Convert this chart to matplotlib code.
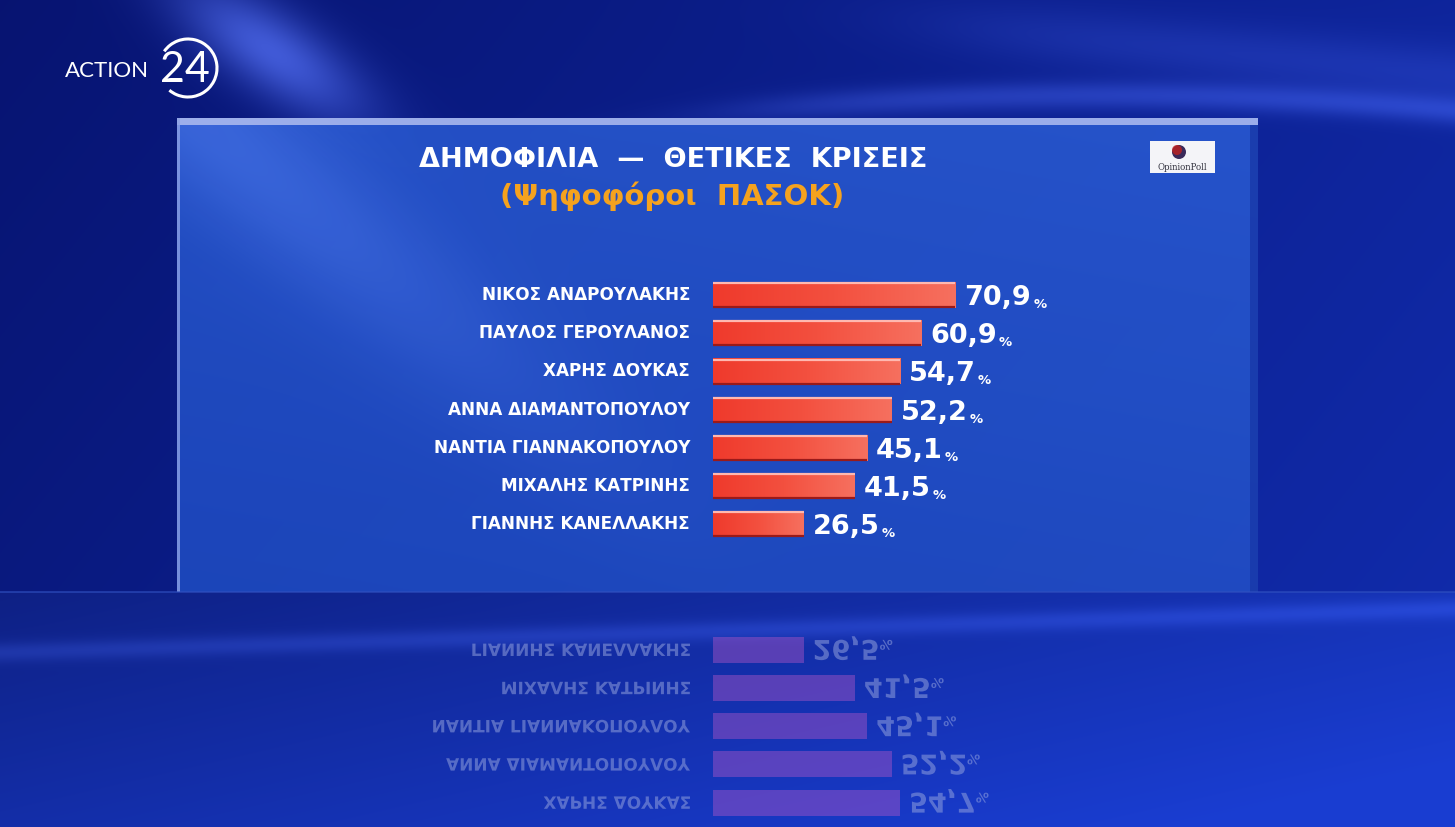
import numpy as np
import matplotlib
matplotlib.use("Agg")
import matplotlib.pyplot as plt
from matplotlib.patches import Rectangle, Arc, Circle, PathPatch
from matplotlib.textpath import TextPath
from matplotlib.font_manager import FontProperties
from matplotlib.colors import LinearSegmentedColormap

# ---------------- data ----------------
names = ["ΝΙΚΟΣ ΑΝΔΡΟΥΛΑΚΗΣ", "ΠΑΥΛΟΣ ΓΕΡΟΥΛΑΝΟΣ", "ΧΑΡΗΣ ΔΟΥΚΑΣ",
         "ΑΝΝΑ ΔΙΑΜΑΝΤΟΠΟΥΛΟΥ", "ΝΑΝΤΙΑ ΓΙΑΝΝΑΚΟΠΟΥΛΟΥ", "ΜΙΧΑΛΗΣ ΚΑΤΡΙΝΗΣ",
         "ΓΙΑΝΝΗΣ ΚΑΝΕΛΛΑΚΗΣ"]
values = [70.9, 60.9, 54.7, 52.2, 45.1, 41.5, 26.5]
title = "ΔΗΜΟΦΙΛΙΑ  —  ΘΕΤΙΚΕΣ  ΚΡΙΣΕΙΣ"
subtitle = "(Ψηφοφόροι  ΠΑΣΟΚ)"

W, H = 1455, 827
DPI = 100
fig = plt.figure(figsize=(W / DPI, H / DPI), dpi=DPI)

# ---------------- background (pixel coordinates) ----------------
bg = fig.add_axes([0, 0, 1, 1], zorder=0)
bg.set_xlim(0, W)
bg.set_ylim(H, 0)
bg.axis("off")

yy, xx = np.mgrid[0:H, 0:W].astype(float)
dark = np.array([0.02, 0.06, 0.40])
mid = np.array([0.07, 0.18, 0.70])
f = np.clip(0.15 + 0.55 * xx / W + 0.25 * yy / H, 0, 1)
img = dark[None, None, :] * (1 - f[..., None]) + mid[None, None, :] * f[..., None]


def sig(z):
    return 1 / (1 + np.exp(-z))


# soft light streaks
streak_d = (yy - 1.0 * (xx - 220)) / np.sqrt(2)
glow = 0.40 * np.exp(-(streak_d / 45) ** 2) * np.exp(-((yy - 50) / 70) ** 2)
curve_y = 95 + 0.00012 * (xx - 1100) ** 2
glow += 0.18 * np.exp(-((yy - curve_y) / 14) ** 2) * sig((xx - 750) / 60)
glow += 0.10 * np.exp(-((yy - (20 + 0.1 * (xx - 900))) / 30) ** 2) * sig((xx - 950) / 60)
img += glow[..., None] * np.array([0.55, 0.65, 0.9])[None, None, :]
# floor
floor = yy >= 592
ff = np.clip(0.25 + 0.5 * xx / W + 0.35 * (yy - 592) / 235, 0, 1)
floor_col = np.array([0.04, 0.09, 0.42])[None, None, :] * (1 - ff[..., None]) + \
    np.array([0.10, 0.24, 0.82])[None, None, :] * ff[..., None]
band = 0.12 * np.exp(-((yy - (640 - 0.03 * (xx - 400))) / 10) ** 2)
floor_col += band[..., None] * np.array([0.5, 0.6, 0.9])[None, None, :]
img = np.where(floor[..., None], floor_col, img)
bg.imshow(np.clip(img, 0, 1), extent=[0, W, H, 0], aspect="auto", zorder=0,
          interpolation="bilinear")

# panel
pw0, pw1, ph0, ph1 = 177, 1258, 118, 592
py, px = np.mgrid[0:ph1 - ph0, 0:pw1 - pw0].astype(float)
pf = np.clip(0.6 - 0.35 * py / (ph1 - ph0) + 0.15 * px / (pw1 - pw0), 0, 1)
pimg = np.array([0.10, 0.26, 0.72])[None, None, :] * (1 - pf[..., None]) + \
    np.array([0.18, 0.38, 0.85])[None, None, :] * pf[..., None]
pd = (py - 0.9 * (px - 20)) / 1.35
pglow = 0.10 * np.exp(-(pd / 70) ** 2) * np.exp(-(py / 260) ** 2)
pimg += pglow[..., None]
bg.imshow(np.clip(pimg, 0, 1), extent=[pw0, pw1, ph1, ph0], aspect="auto",
          zorder=1, alpha=0.9)
bg.add_patch(Rectangle((pw0, ph0), pw1 - pw0, 7, facecolor="#a9b8ee",
                       edgecolor="none", zorder=2, alpha=0.9))
bg.add_patch(Rectangle((pw0, ph0), 3, ph1 - ph0, facecolor="#8fa2e4",
                       edgecolor="none", zorder=2, alpha=0.8))
bg.add_patch(Rectangle((pw1 - 8, ph0 + 7), 8, ph1 - ph0 - 7, facecolor="#1838a8",
                       edgecolor="none", zorder=2, alpha=0.8))
bg.plot([0, W], [592, 592], color="#3050c0", lw=1.2, zorder=2, alpha=0.7)

# logo ACTION 24
bg.text(65, 77, "ACTION", color="white", fontsize=16, family="Lato",
        ha="left", va="baseline", zorder=3)
bg.text(160, 82, "24", color="white", fontsize=31, family="Lato",
        ha="left", va="baseline", zorder=3)
bg.add_patch(Arc((188, 68), 58, 58, theta1=215, theta2=130, color="white",
                 lw=2.2, zorder=3))

# OpinionPoll logo
bg.add_patch(Rectangle((1150, 141), 65, 32, facecolor="#f4f4f8",
                       edgecolor="none", zorder=3))
bg.add_patch(Circle((1179, 152), 7, facecolor="#3a2a5a", edgecolor="none",
                    zorder=4))
bg.add_patch(Circle((1177, 150), 5, facecolor="#c02020", edgecolor="none",
                    zorder=4, alpha=0.8))
bg.text(1182, 167, "OpinionPoll", color="#333340", fontsize=6.2,
        family="DejaVu Serif", ha="center", va="center", zorder=4)

# titles
bg.text(673, 160, title, color="white", fontsize=19.5, fontweight="bold",
        family="DejaVu Sans", ha="center", va="center", zorder=3)
bg.text(672, 196, subtitle, color="#f5a21e", fontsize=21, fontweight="bold",
        family="DejaVu Sans", ha="center", va="center", zorder=3)

# ---------------- bar axes ----------------
x0_px, x1_px = 713, 1258
row_h = 38.2
top_px = 295 - row_h / 2
n = len(values)
bot_px = top_px + n * row_h
px_per_unit = 3.42
ax = fig.add_axes([x0_px / W, 1 - bot_px / H, (x1_px - x0_px) / W,
                   (bot_px - top_px) / H], zorder=2)
ax.set_facecolor("none")
ax.axis("off")
xmax = (x1_px - x0_px) / px_per_unit
bar_h = 0.68
ypos = np.arange(n)
bars = ax.barh(ypos, values, height=bar_h, color="#f04838", edgecolor="none",
               zorder=2)
grad = np.linspace(0, 1, 256)[None, :]
cmap = LinearSegmentedColormap.from_list("barg", ["#ef3a2c", "#f3503f", "#f6705f"])
for b in bars:
    x, y, w, h = b.get_x(), b.get_y(), b.get_width(), b.get_height()
    im = ax.imshow(grad, extent=[x, x + w, y + h, y], aspect="auto", cmap=cmap,
                   zorder=3)
    im.set_clip_path(b)
ax.hlines(ypos - bar_h / 2 + 0.03, 0, values, color="#ffb8b0", lw=1.6, zorder=4)
ax.hlines(ypos + bar_h / 2 - 0.02, 0, values, color="#9a1a1a", lw=1.6, zorder=4)
ax.set_xlim(0, xmax)
ax.set_ylim(n - 0.5, -0.5)

name_fp = dict(family="DejaVu Sans", fontweight="bold", fontsize=12.2)
for i, (nm, v) in enumerate(zip(names, values)):
    ax.annotate(nm, xy=(0, i), xytext=(-23, 0), textcoords="offset pixels",
                ha="right", va="center", color="white", **name_fp)
    t = ax.annotate(f"{v:.1f}".replace(".", ","), xy=(v, i), xytext=(9, 0),
                    textcoords="offset pixels", ha="left", va="center_baseline",
                    color="white", fontsize=19.5, fontweight="bold",
                    family="DejaVu Sans")
    ax.annotate("%", xy=(1, 0), xycoords=t, xytext=(2, 0),
                textcoords="offset pixels", ha="left", va="bottom",
                color="white", fontsize=9.5, fontweight="bold",
                family="DejaVu Sans")

# ---------------- reflection ----------------
mirror = 587
rtop = 2 * mirror - bot_px
rax = fig.add_axes([x0_px / W, 1 - (rtop + (bot_px - top_px)) / H,
                    (x1_px - x0_px) / W, (bot_px - top_px) / H], zorder=1)
rax.set_facecolor("none")
rax.axis("off")
rax.barh(ypos, values, height=bar_h, color="#b858c8", alpha=0.42,
         edgecolor="none")
rax.set_xlim(0, xmax)
rax.set_ylim(-0.5, n - 0.5)

fp_name = FontProperties(family="DejaVu Sans", weight="bold")
fp_val = FontProperties(family="DejaVu Sans", weight="bold")
name_px = 12.2 * DPI / 72
val_px = 19.5 * DPI / 72
pct_px = 9.5 * DPI / 72
for i, (nm, v) in enumerate(zip(names, values)):
    yc = top_px + (i + 0.5) * row_h
    ym = 2 * mirror - yc
    tp = TextPath((0, 0), nm, size=name_px, prop=fp_name)
    bb = tp.get_extents()
    tp = TextPath((x0_px - 23 - bb.x1, ym - bb.height / 2 - bb.y0), nm,
                  size=name_px, prop=fp_name)
    bg.add_patch(PathPatch(tp, facecolor="#9aa8e0", edgecolor="none",
                           alpha=0.5, zorder=3))
    xe = x0_px + v * px_per_unit + 9
    s = f"{v:.1f}".replace(".", ",")
    tv = TextPath((0, 0), s, size=val_px, prop=fp_val)
    bv = tv.get_extents()
    base = ym - 0.36 * val_px
    tv = TextPath((xe, base), s, size=val_px, prop=fp_val)
    bg.add_patch(PathPatch(tv, facecolor="#9aa8e0", edgecolor="none",
                           alpha=0.5, zorder=3))
    tpc = TextPath((xe + bv.x1 + 2, base), "%", size=pct_px, prop=fp_val)
    bg.add_patch(PathPatch(tpc, facecolor="#9aa8e0", edgecolor="none",
                           alpha=0.5, zorder=3))

fig.savefig("out.png", dpi=DPI)
